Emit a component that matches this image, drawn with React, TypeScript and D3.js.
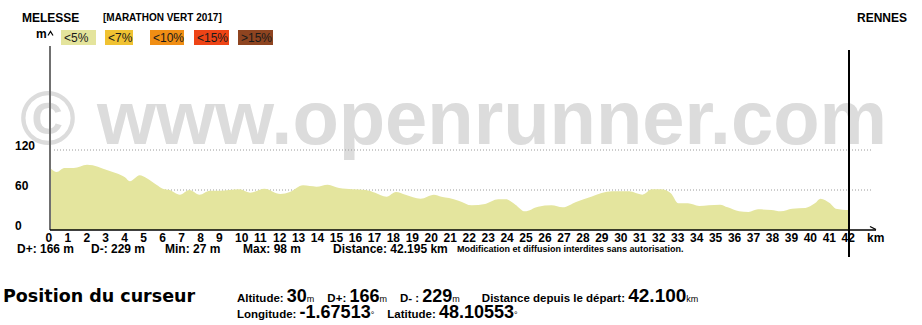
import React from 'react';
import * as d3 from 'd3';

const distances = [0, 0.3, 0.7, 1.2, 1.9, 2.2, 2.75, 3.45, 3.9, 4.16, 4.68, 5.03, 5.56, 5.9, 6.26, 6.8, 7.3, 7.84, 8.37, 8.9, 9.4, 9.95, 10.5, 11.26, 12.1, 12.6, 13.3, 14.0, 14.6, 15.2, 15.9, 16.6, 17.1, 17.7, 18.2, 18.7, 19.5, 20.2, 20.6, 21.0, 21.5, 22.2, 22.9, 23.6, 24.0, 24.5, 25.0, 25.7, 26.4, 27.0, 27.7, 28.5, 29.6, 30.5, 31.2, 31.7, 32.2, 32.7, 33.1, 33.6, 34.2, 34.7, 35.3, 35.7, 36.3, 36.8, 37.3, 38.0, 38.5, 39.1, 39.8, 40.3, 40.6, 41.1, 41.4, 42.1];
const altitudes = [92, 87, 93, 93, 98, 97, 92, 85, 79, 73, 82, 78, 68, 62, 60, 53, 60, 53, 59, 59, 60, 61, 56, 62, 54, 57, 67, 65, 68, 63, 61, 60, 56, 50, 57, 53, 47, 53, 50, 48, 44, 37, 39, 46, 46, 38, 28, 35, 37, 34, 42, 50, 58, 58, 53, 61, 61, 55, 40, 40, 36, 37, 38, 34, 28, 27, 31, 30, 28, 32, 33, 40, 47, 40, 32, 30];

const xTicks = d3.range(0, 43);
const yTicks = [0, 60, 120];
const gridTicks = [60, 120];

const legendLabels = ['<5%', '<7%', '<10%', '<15%', '>15%'];
const legendColors = ['#e4e49c', '#f0c232', '#f08e14', '#ee4416', '#8e4420'];

const startName = 'MELESSE';
const eventName = '[MARATHON VERT 2017]';
const endName = 'RENNES';

const statLabels = ['D+: 166 m', 'D-: 229 m', 'Min: 27 m', 'Max: 98 m', 'Distance: 42.195 km'];
const notice = 'Modification et diffusion interdites sans autorisation.';

const cursorKm = 42.1;
const cursorLine1 = [
  ['Altitude: ', '30', 'm'],
  ['D+: ', '166', 'm'],
  ['D- : ', '229', 'm'],
  ['Distance depuis le départ: ', '42.100', 'km'],
];
const cursorLine2 = [
  ['Longitude: ', '-1.67513', '°'],
  ['Latitude: ', '48.10553', '°'],
];

const FONT = '"Liberation Sans", Arial, Helvetica, sans-serif';

export default function App() {
  const x = d3.scaleLinear().domain([0, 42.1]).range([51, 849]);
  const y = d3.scaleLinear().domain([0, 120]).range([230, 150]);
  const pts = distances.map((d, i) => [d, altitudes[i]] as [number, number]);
  const area = d3
    .area<[number, number]>()
    .x((d) => x(d[0]))
    .y0(y(0))
    .y1((d) => y(d[1]))
    .curve(d3.curveMonotoneX);

  const statX = [17, 91, 165, 243, 333];
  const legendW = [35, 28, 34, 35, 35];
  const legendX = [61, 105, 150, 194, 238];

  const renderLine = (segs: string[][], yy: number) => (
    <text x={237} y={yy} fontFamily={FONT} fontWeight="bold" fill="#000">
      {segs.map((s, i) => (
        <React.Fragment key={i}>
          <tspan fontSize={11.5} dx={i === 0 ? 0 : i === 3 ? 22 : 13}>{s[0]}</tspan>
          <tspan fontSize={i === 3 ? 19 : 18}>{s[1]}</tspan>
          <tspan fontSize={9} fontWeight="normal">{s[2]}</tspan>
        </React.Fragment>
      ))}
    </text>
  );

  return (
    <svg width={922} height={325} style={{ position: 'absolute', left: 0, top: 0, background: '#fff' }}>
      <rect width={922} height={325} fill="#fff" />
      {/* watermark */}
      <text x={20} y={144} fontFamily={FONT} fontWeight="bold" fontSize={76} fill="#dcdcdc" textLength={867} lengthAdjust="spacingAndGlyphs">
        © www.openrunner.com
      </text>
      {/* titles */}
      <text x={22} y={21.5} fontFamily={FONT} fontWeight="bold" fontSize={12}>{startName}</text>
      <text x={103} y={21} fontFamily={FONT} fontWeight="bold" fontSize={10}>{eventName}</text>
      <text x={857} y={21.5} fontFamily={FONT} fontWeight="bold" fontSize={12}>{endName}</text>
      {/* legend */}
      <text x={36} y={38} fontFamily={FONT} fontWeight="bold" fontSize={12}>m</text>
      {legendLabels.map((l, i) => (
        <g key={l}>
          <rect x={legendX[i]} y={30} width={legendW[i]} height={15} fill={legendColors[i]} />
          <text x={legendX[i] + 3} y={42} fontFamily={FONT} fontSize={12} fill="#1a1a1a">{l}</text>
        </g>
      ))}
      {/* grid */}
      {gridTicks.map((t) => (
        <line key={t} x1={54} x2={872} y1={y(t)} y2={y(t)} stroke="#9a9a9a" strokeWidth={1} strokeDasharray="1 2" />
      ))}
      {/* area */}
      <path d={area(pts) || ''} fill="#e4e59e" />
      {/* y axis */}
      <line x1={50} x2={50} y1={46} y2={230} stroke="#707070" strokeWidth={2} />
      <path d="M48,35.5 L50.5,31.5 L53,35.5" fill="none" stroke="#000" strokeWidth={1.2} />
      {yTicks.map((t) => (
        <text key={t} x={15} y={y(t)} fontFamily={FONT} fontWeight="bold" fontSize={12}>{t}</text>
      ))}
      {/* x axis */}
      <line x1={50} x2={876} y1={230} y2={230} stroke="#000" strokeWidth={1.5} />
      <path d="M870,226.5 L876,229.5" fill="none" stroke="#000" strokeWidth={1.3} />
      {xTicks.map((t) => (
        <text key={t} x={x(t) - 5.5} y={242} fontFamily={FONT} fontWeight="bold" fontSize={12}>{t}</text>
      ))}
      <text x={867} y={242} fontFamily={FONT} fontWeight="bold" fontSize={12}>km</text>
      {/* cursor */}
      <line x1={x(cursorKm)} x2={x(cursorKm)} y1={50} y2={257} stroke="#000" strokeWidth={2} />
      {/* stats */}
      {statLabels.map((s, i) => (
        <text key={s} x={statX[i]} y={252.5} fontFamily={FONT} fontWeight="bold" fontSize={12}>{s}</text>
      ))}
      <text x={457} y={251.5} fontFamily={FONT} fontWeight="bold" fontSize={9}>{notice}</text>
      {/* cursor panel */}
      <text x={3} y={302} fontFamily='"DejaVu Sans", Verdana, sans-serif' fontWeight="bold" fontSize={17.5}>Position du curseur</text>
      {renderLine(cursorLine1, 302)}
      {renderLine(cursorLine2, 318)}
    </svg>
  );
}
